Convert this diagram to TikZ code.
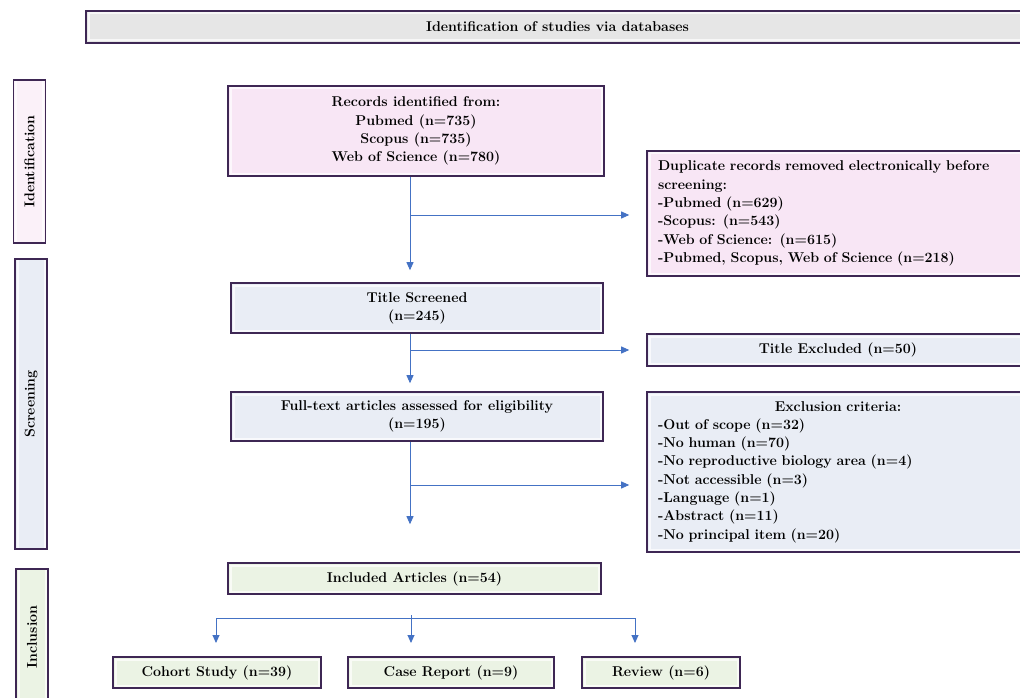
\documentclass[tikz,border=0pt]{standalone}
\usetikzlibrary{arrows.meta}
\definecolor{edgepurple}{HTML}{3E2754}
\definecolor{flowblue}{HTML}{4472C4}
\definecolor{idfill}{HTML}{F8E6F5}
\definecolor{idside}{HTML}{FBF1F9}
\definecolor{scfill}{HTML}{E9EDF5}
\definecolor{infill}{HTML}{EBF3E4}
\definecolor{headfill}{HTML}{E6E6E6}
\tikzset{
  box/.style={draw=edgepurple, line width=1.6pt, rectangle, inner sep=0pt, align=center,
    font=\fontsize{14.2}{18.3}\selectfont\bfseries,
    path picture={\draw[white, line width=2pt, opacity=0.7]
      ([shift={(2.5pt,-2.5pt)}]path picture bounding box.north west) rectangle
      ([shift={(-2.5pt,2.5pt)}]path picture bounding box.south east);}},
  sidebar/.style={box, rotate=90, minimum height=32pt},
  link/.style={draw=flowblue, line width=0.9pt},
  flow/.style={link, -{Triangle[length=8pt,width=7pt]}},
}
\begin{document}
\begin{tikzpicture}[x=1pt,y=-1pt]
  \clip (0,0) rectangle (1020,698);
  \node[box, fill=headfill, minimum width=943pt, minimum height=32pt] (head) at (557.5,27)
    {Identification of studies via databases};
  \node[sidebar, fill=idside, minimum width=163pt] (idbar) at (29.5,161.5) {Identification};
  \node[sidebar, fill=scfill, minimum width=290pt] (scbar) at (31,404) {Screening};
  \node[sidebar, fill=infill, minimum width=136pt] (inbar) at (32,637) {Inclusion};

  \node[box, fill=idfill, minimum width=376pt, minimum height=90pt] (rec) at (416,131)
    {Records identified from:\\ Pubmed (n=735)\\ Scopus (n=735)\\ Web of Science (n=780)};
  \node[box, fill=idfill, align=left, text width=360pt, inner xsep=11pt, minimum height=125pt] (dup) at (838,213.5)
    {Duplicate records removed electronically before\\ screening:\\ -Pubmed (n=629)\\ -Scopus: (n=543)\\
     -Web of Science: (n=615)\\ -Pubmed, Scopus, Web of Science (n=218)};
  \node[box, fill=scfill, minimum width=372pt, minimum height=50pt] (ts) at (417,308)
    {Title Screened\\ (n=245)};
  \node[box, fill=scfill, minimum width=382pt, minimum height=32pt] (tex) at (838,350)
    {Title Excluded (n=50)};
  \node[box, fill=scfill, minimum width=372pt, minimum height=49pt] (ft) at (417,416.5)
    {Full-text articles assessed for eligibility\\ (n=195)};
  \node[box, fill=scfill, align=left, text width=360pt, inner xsep=11pt, minimum height=160pt] (exc) at (838,472)
    {\makebox[360pt]{Exclusion criteria:}\\ -Out of scope (n=32)\\ -No human (n=70)\\
     -No reproductive biology area (n=4)\\ -Not accessible (n=3)\\ -Language (n=1)\\
     -Abstract (n=11)\\ -No principal item (n=20)};
  \node[box, fill=infill, minimum width=373pt, minimum height=31pt] (inc) at (414.5,578.5)
    {Included Articles (n=54)};
  \node[box, fill=infill, minimum width=208pt, minimum height=31pt] (coh) at (217,672.5)
    {Cohort Study (n=39)};
  \node[box, fill=infill, minimum width=206pt, minimum height=31pt] (case) at (451,672.5)
    {Case Report (n=9)};
  \node[box, fill=infill, minimum width=158pt, minimum height=31pt] (rev) at (661,672.5)
    {Review (n=6)};

  \coordinate (j1) at (410,215);
  \coordinate (j2) at (410,350);
  \coordinate (j3) at (410,485);
  \coordinate (forktop) at (411,615);
  \coordinate (fork) at (411,618);
  \coordinate (tip1) at (216,643);
  \coordinate (tip3) at (635,643);
  \begin{scope}[flow]
    \draw[shorten >=12pt] (rec.south -| j1) -- (ts.north -| j1);
    \draw[shorten >=17pt] (j1) -- (dup.west |- j1);
    \draw[shorten >=8pt] (ts.south -| j2) -- (ft.north -| j2);
    \draw[shorten >=17pt] (j2) -- (tex.west |- j2);
    \draw[shorten >=38pt] (ft.south -| j3) -- (inc.north -| j3);
    \draw[shorten >=17pt] (j3) -- (exc.west |- j3);
    \draw (forktop) -- (fork |- tip1);
    \draw (fork) -| (tip1);
    \draw (fork) -| (tip3);
  \end{scope}
\end{tikzpicture}
\end{document}
